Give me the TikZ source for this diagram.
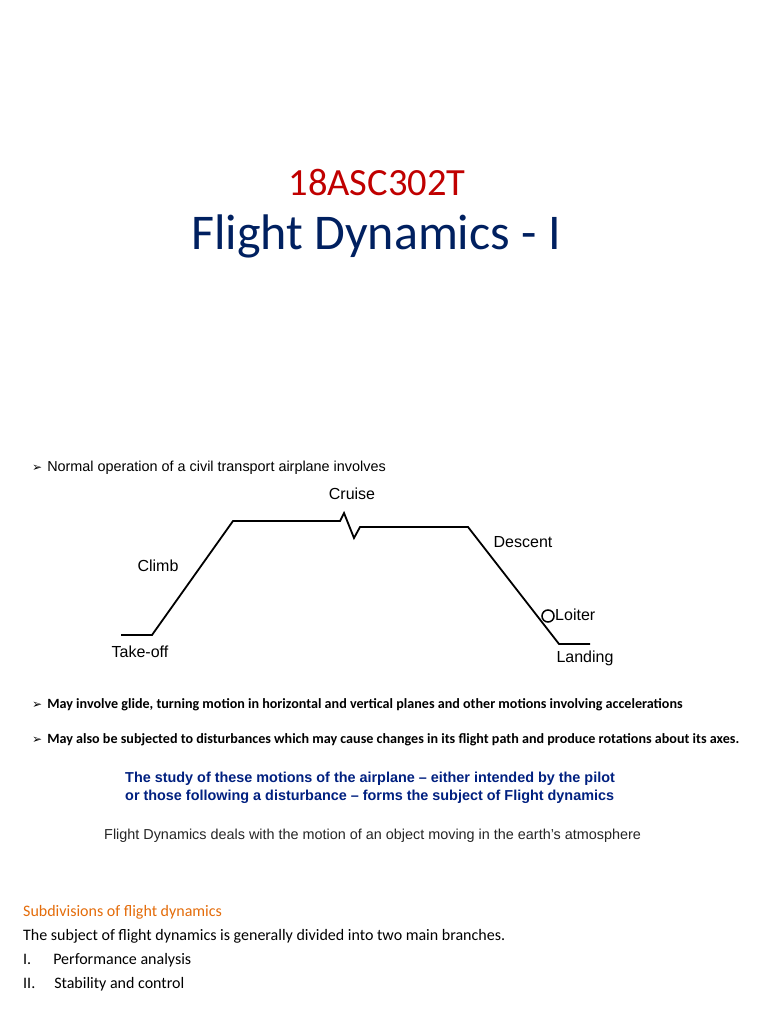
\documentclass[tikz,border=0pt]{standalone}
\usepackage{fontspec}
\setmainfont{Liberation Sans}
\newfontfamily\calfont{Carlito}
\newfontfamily\djv{DejaVu Sans}
\newcommand{\arr}{{\djv\bfseries\fontsize{12}{12}\selectfont ➢}}
\definecolor{tred}{RGB}{192,0,0}
\definecolor{tblue}{RGB}{0,32,96}
\definecolor{sblue}{RGB}{0,32,128}
\definecolor{orng}{RGB}{228,108,10}
\begin{document}
\begin{tikzpicture}[x=1pt,y=-1pt,
  lbl/.style={font=\fontsize{16}{18}\selectfont,inner sep=0pt},
  bul/.style={anchor=west,inner sep=0pt},
  path/.style={line width=1.8pt,line join=miter}]
\useasboundingbox[fill=white] (0,0) rectangle (768,1024);
\node[tred,font=\calfont\fontsize{38.5}{40}\selectfont] (code) at (377,182) {18ASC302T};
\node[tblue,font=\calfont\fontsize{50}{54}\selectfont] (title) at (376,236) {Flight Dynamics - I};
\node[bul,font=\fontsize{14.4}{16}\selectfont] (b1) at (32,468) {\arr\hspace{5pt}Normal operation of a civil transport airplane involves};
\draw[path] (121,635) -- (152,635) -- (233,521) -- (340,521) -- (344,513) -- (354,538) -- (360,527) -- (468,527) -- (559,644) -- (590,644);
\draw[line width=1.5pt] (548,616) circle (6);
\node[lbl] (cr) at (352,494) {Cruise};
\node[lbl] (cl) at (158,566) {Climb};
\node[lbl] (de) at (523,542) {Descent};
\node[lbl,anchor=west] (lo) at (555,615) {Loiter};
\node[lbl] (to) at (140,652) {Take-off};
\node[lbl] (la) at (585,658) {Landing};
\node[bul,font=\calfont\bfseries\fontsize{14.1}{16}\selectfont] (b2) at (32,705) {\arr\hspace{5pt}May involve glide, turning motion in horizontal and vertical planes and other motions involving accelerations};
\node[bul,font=\calfont\bfseries\fontsize{14.1}{16}\selectfont] (b3) at (32,740) {\arr\hspace{5pt}May also be subjected to disturbances which may cause changes in its flight path and produce rotations about its axes.};
\node[sblue,font=\bfseries\fontsize{14.4}{18}\selectfont,align=left,anchor=north west,inner sep=0pt] (st) at (125,772) {The study of these motions of the airplane -- either intended by the pilot\\or those following a disturbance -- forms the subject of Flight dynamics};
\node[anchor=west,inner sep=0pt,font=\fontsize{14.4}{16}\selectfont,text=black!85] (fd) at (104,836) {Flight Dynamics deals with the motion of an object moving in the earth's atmosphere};
\node[anchor=west,inner sep=0pt,orng,font=\calfont\fontsize{16}{18}\selectfont] (sd) at (23,912) {Subdivisions of flight dynamics};
\node[anchor=west,inner sep=0pt,font=\calfont\fontsize{16}{18}\selectfont] (s1) at (23,936) {The subject of flight dynamics is generally divided into two main branches.};
\node[anchor=west,inner sep=0pt,font=\calfont\fontsize{16}{18}\selectfont] (s2) at (23,960) {I.\hspace{22pt}Performance analysis};
\node[anchor=west,inner sep=0pt,font=\calfont\fontsize{16}{18}\selectfont] (s3) at (23,984) {II.\hspace{19pt}Stability and control};
\end{tikzpicture}
\end{document}
